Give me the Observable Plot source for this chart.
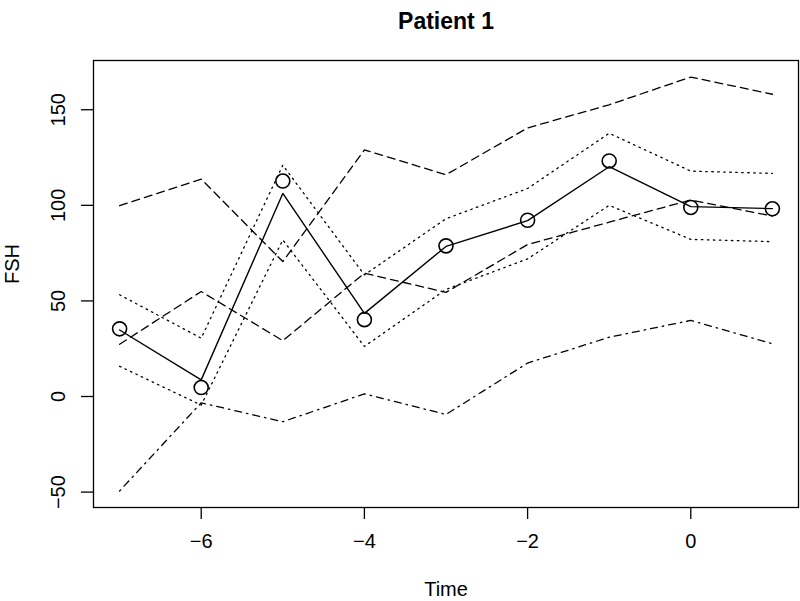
<!DOCTYPE html>
<html><head><meta charset="utf-8">
<script src="https://cdn.jsdelivr.net/npm/d3@7"></script>
<script src="https://cdn.jsdelivr.net/npm/@observablehq/plot@0.6"></script>
<style>html,body{margin:0;padding:0;background:#fff}#chart svg{display:block}</style>
</head><body><div id="chart"></div>
<script>
const time = [-7, -6, -5, -4, -3, -2, -1, 0, 1];
const observed = [35.4, 4.7, 112.7, 40.2, 78.8, 92.2, 123.2, 98.9, 98.2];
const fitted = [34.8, 8.7, 106.2, 43.5, 78.5, 92.0, 120.2, 99.3, 98.3];
const upperDotted = [53.2, 30.5, 121.0, 63.6, 93.0, 108.8, 137.7, 117.9, 116.7];
const lowerDotted = [15.8, -4.5, 81.9, 26.2, 56.0, 72.0, 100.0, 82.2, 81.0];
const upperDashed = [99.8, 113.7, 70.6, 129.0, 116.0, 140.5, 152.6, 167.1, 158.1];
const lowerDashed = [27.3, 54.9, 29.2, 64.5, 54.5, 79.5, 91.2, 102.8, 94.4];
const dashDot = [-49.4, -3.3, -13.2, 1.4, -9.4, 17.5, 31.0, 39.8, 27.6];
const xTicks = [-6, -4, -2, 0];
const yTicks = [-50, 0, 50, 100, 150];
const titleText = "Patient 1";
const xLabel = "Time";
const yLabel = "FSH";

const ext = (lo, hi) => { const d = (hi - lo) * 0.04; return [lo - d, hi + d]; };
const allY = [...observed, ...fitted, ...upperDotted, ...lowerDotted, ...upperDashed, ...lowerDashed, ...dashDot];
const rows = time.map((t, i) => ({
  t, obs: observed[i], fit: fitted[i], ud: upperDotted[i], ld: lowerDotted[i],
  uh: upperDashed[i], lh: lowerDashed[i], dd: dashDot[i]
}));
const fmt = d => d < 0 ? "\u2212" + Math.abs(d) : String(d);
const font = "'Liberation Sans', Arial, Helvetica, sans-serif";
const lineOpts = {x: "t", stroke: "#000", strokeWidth: 1.3};

const plot = Plot.plot({
  width: 800, height: 601,
  marginLeft: 93, marginRight: 2, marginTop: 60, marginBottom: 94,
  style: {fontFamily: font, background: "#fff", color: "#000"},
  x: {domain: ext(d3.min(time), d3.max(time))},
  y: {domain: ext(d3.min(allY), d3.max(allY))},
  marks: [
    Plot.frame({stroke: "#000", strokeWidth: 1.3}),
    Plot.line(rows, {...lineOpts, y: "ud", strokeDasharray: "1.5,4.5"}),
    Plot.line(rows, {...lineOpts, y: "ld", strokeDasharray: "1.5,4.5"}),
    Plot.line(rows, {...lineOpts, y: "uh", strokeDasharray: "8,5"}),
    Plot.line(rows, {...lineOpts, y: "lh", strokeDasharray: "8,5"}),
    Plot.line(rows, {...lineOpts, y: "dd", strokeDasharray: "1.5,5,7,5"}),
    Plot.line(rows, {...lineOpts, y: "fit", strokeWidth: 1.4}),
    Plot.dot(rows, {x: "t", y: "obs", r: 7, stroke: "#000", strokeWidth: 1.6, fill: "none"}),
    Plot.axisX({ticks: xTicks, tickSize: 12, tickPadding: 14, fontSize: 20, label: null, tickFormat: fmt, strokeWidth: 1.3}),
    Plot.axisY({ticks: yTicks, tickSize: 12, tickFormat: () => "", label: null, strokeWidth: 1.3}),
    Plot.text(yTicks, {y: d => d, text: fmt, frameAnchor: "left", dx: -35, rotate: -90, fontSize: 20, textAnchor: "middle", lineAnchor: "middle"}),
    Plot.text([yLabel], {text: d => d, frameAnchor: "left", dx: -81, rotate: -90, fontSize: 20}),
    Plot.text([xLabel], {text: d => d, frameAnchor: "bottom", dy: 88, fontSize: 20}),
    Plot.text([titleText], {text: d => d, frameAnchor: "top", dy: -48, fontSize: 23, fontWeight: "bold"})
  ]
});
document.getElementById("chart").appendChild(plot);
</script>
</body></html>
